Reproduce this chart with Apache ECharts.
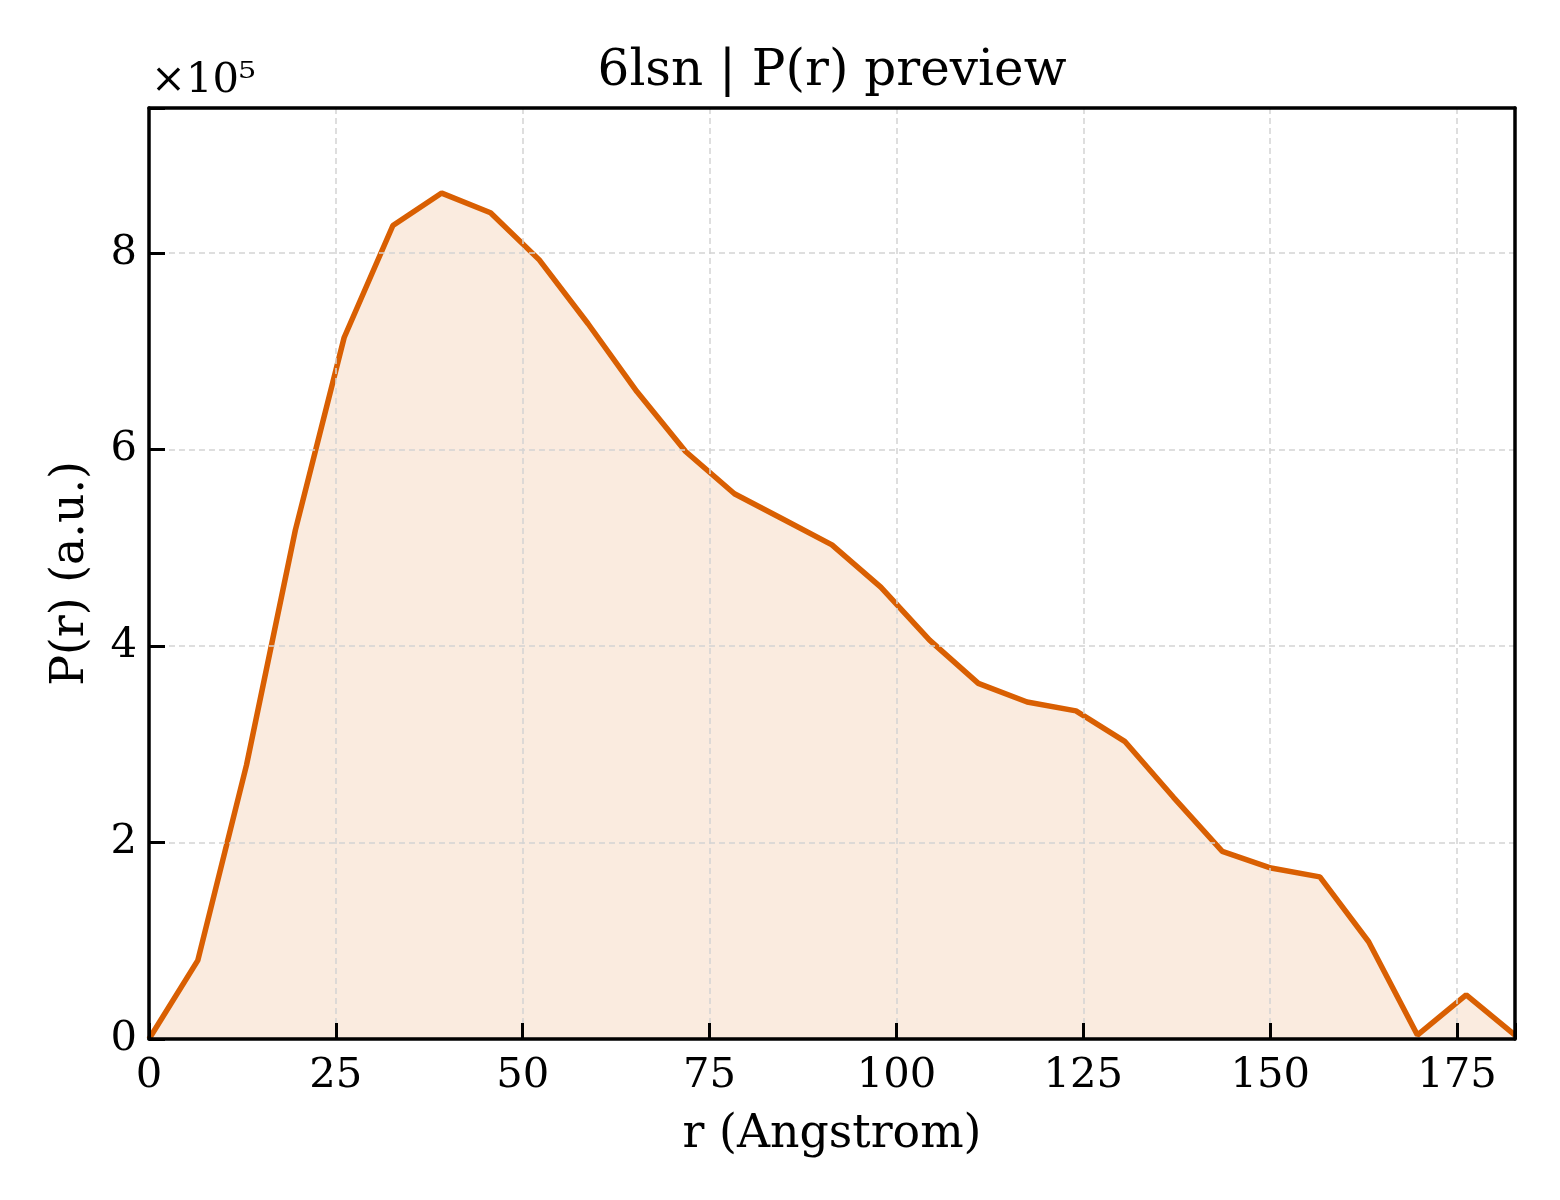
<!DOCTYPE html>
<html>
<head>
<meta charset="utf-8">
<script src="https://cdn.jsdelivr.net/npm/echarts@6/dist/echarts.min.js"></script>
<style>
html,body{margin:0;padding:0;background:#fff;}
#chart{width:1560px;height:1200px;}
</style>
</head>
<body>
<div id="chart"></div>
<script>
// r values (Angstrom)
const rValues = [0.00, 6.53, 13.05, 19.58, 26.11, 32.63, 39.16, 45.69, 52.21, 58.74,
  65.27, 71.79, 78.32, 84.85, 91.37, 97.90, 104.43, 110.95, 117.48, 124.01,
  130.53, 137.06, 143.59, 150.11, 156.64, 163.17, 169.69, 176.22, 182.75];
// P(r) values (a.u.)
const pValues = [0, 80000, 279000, 518000, 714000, 828000, 861000, 841000, 793000, 728000,
  659000, 598000, 555000, 529000, 503000, 460000, 406000, 362000, 343000, 334000,
  303000, 246000, 191000, 174000, 165000, 99000, 4000, 45000, 4000];
const xTicks = [0, 25, 50, 75, 100, 125, 150, 175];
const yTicks = [0, 200000, 400000, 600000, 800000];

const titleText = '6lsn | P(r) preview';
const xLabel = 'r (Angstrom)';
const yLabel = 'P(r) (a.u.)';
const multiplierText = '×10⁵';

const FONT = "'DejaVu Serif', serif";
const chart = echarts.init(document.getElementById('chart'), null, {renderer: 'canvas'});

const seriesData = rValues.map((r, i) => [r, pValues[i]]);
const X_MIN = 0, X_MAX = 182.75, Y_MIN = 0, Y_MAX = 947600;

const frameAxis = {
  axisLine: {show: true, onZero: false, lineStyle: {color: '#000', width: 3.5}},
  axisTick: {show: false},
  axisLabel: {show: false},
  splitLine: {show: false}
};

chart.setOption({
  backgroundColor: '#ffffff',
  animation: false,
  title: {
    text: titleText,
    left: 827,
    top: 42,
    textAlign: 'center',
    textStyle: {fontFamily: FONT, fontSize: 50, fontWeight: 'normal', color: '#000'}
  },
  grid: {left: 149, right: 45, top: 108, bottom: 161, show: false},
  xAxis: [{
    type: 'value',
    position: 'bottom',
    min: X_MIN, max: X_MAX, interval: 25,
    name: xLabel,
    nameLocation: 'middle',
    nameGap: 73,
    nameTextStyle: {fontFamily: FONT, fontSize: 45.8, color: '#000'},
    axisLine: {show: true, onZero: false, lineStyle: {color: '#000', width: 3.5}},
    axisTick: {show: true, inside: true, length: 16, lineStyle: {color: '#000', width: 3}},
    axisLabel: {
      fontFamily: FONT, fontSize: 41.7, color: '#000', margin: 16,
      formatter: v => (xTicks.indexOf(v) >= 0 ? String(v) : '')
    },
    splitLine: {show: true, lineStyle: {color: '#d4d4d4', width: 1.5, type: [6, 4]}},
    z: 5
  }, Object.assign({type: 'value', position: 'top', min: X_MIN, max: X_MAX, z: 5}, frameAxis)],
  yAxis: [{
    type: 'value',
    position: 'left',
    min: Y_MIN, max: Y_MAX, interval: 200000,
    name: yLabel,
    nameLocation: 'middle',
    nameGap: 55,
    nameRotate: 90,
    nameTextStyle: {fontFamily: FONT, fontSize: 45.8, color: '#000'},
    axisLine: {show: true, onZero: false, lineStyle: {color: '#000', width: 3.5}},
    axisTick: {show: true, inside: true, length: 16, lineStyle: {color: '#000', width: 3}},
    axisLabel: {
      fontFamily: FONT, fontSize: 41.7, color: '#000', margin: 12,
      formatter: v => (yTicks.indexOf(v) >= 0 ? String(v / 100000) : '')
    },
    splitLine: {show: true, lineStyle: {color: '#d4d4d4', width: 1.5, type: [6, 4]}},
    z: 5
  }, Object.assign({type: 'value', position: 'right', min: Y_MIN, max: Y_MAX, z: 5}, frameAxis)],
  graphic: [{
    type: 'text',
    left: 151,
    top: 60,
    style: {text: multiplierText, fontFamily: FONT, fontSize: 41.7, fill: '#000'}
  }],
  series: [{
    type: 'line',
    xAxisIndex: 0,
    yAxisIndex: 0,
    data: seriesData,
    showSymbol: false,
    symbol: 'none',
    smooth: false,
    clip: false,
    lineStyle: {color: '#D95F02', width: 5.5},
    itemStyle: {color: '#D95F02'},
    areaStyle: {color: 'rgba(217,95,2,0.125)', opacity: 1},
    z: 3
  }]
});
</script>
</body>
</html>
